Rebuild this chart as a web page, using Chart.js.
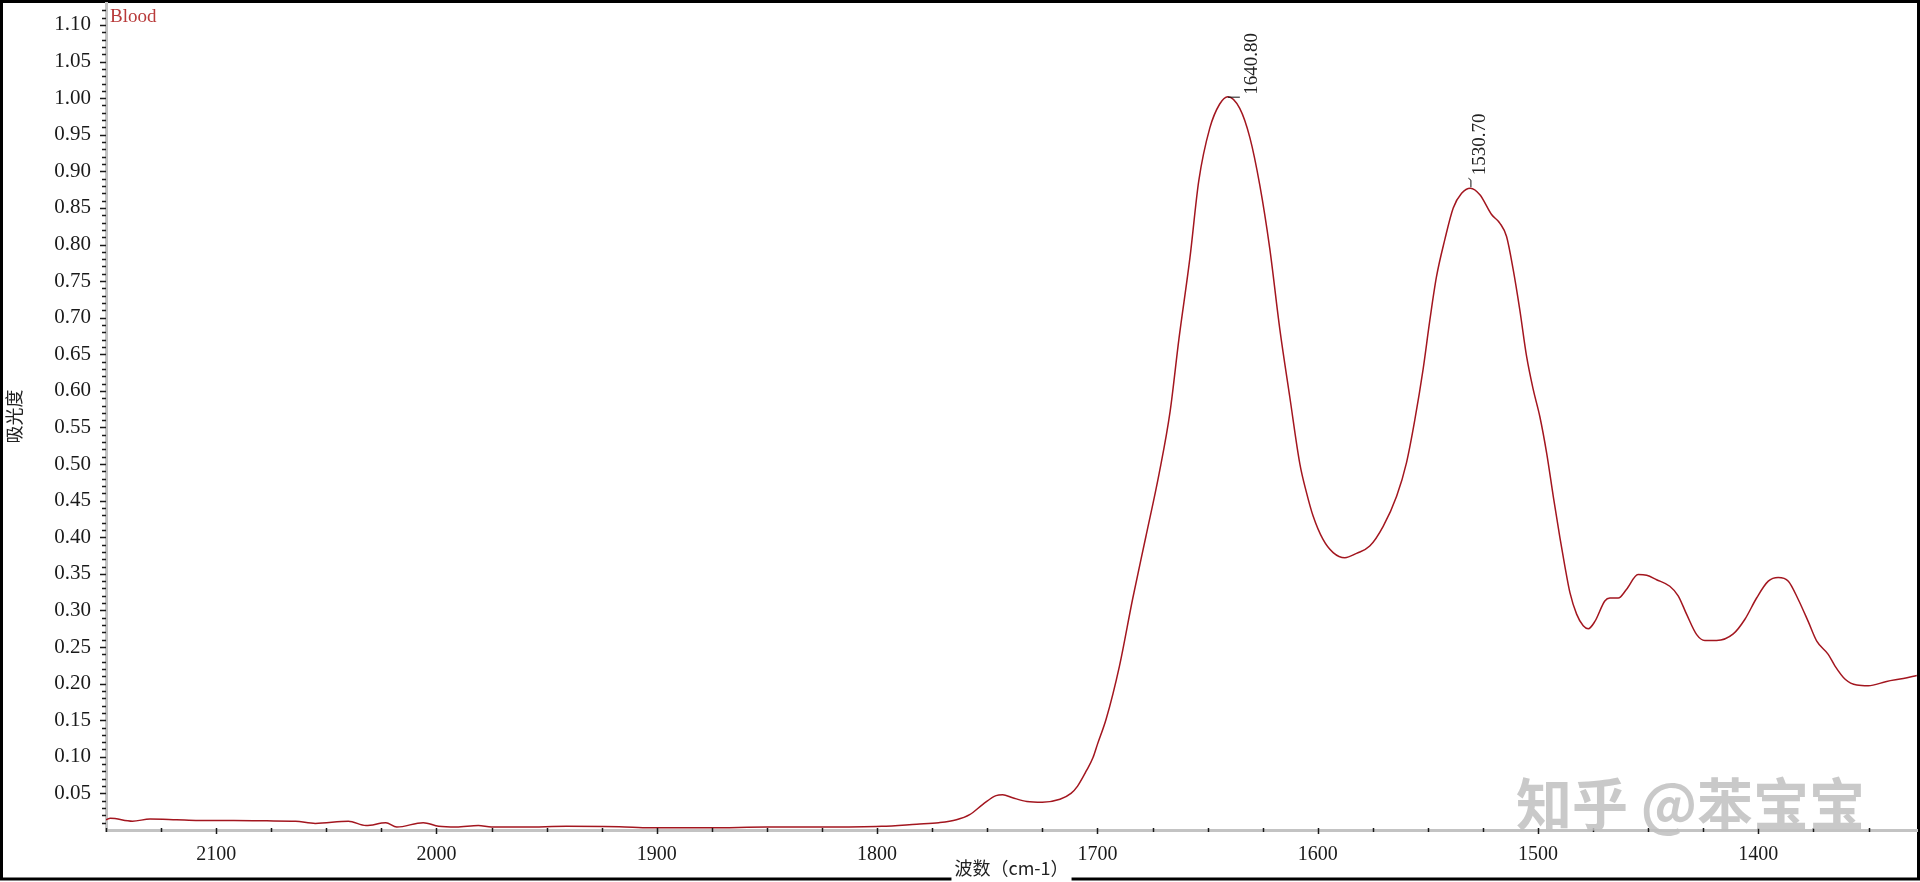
<!DOCTYPE html>
<html>
<head>
<meta charset="utf-8">
<script src="https://cdn.jsdelivr.net/npm/chart.js@4.4.1/dist/chart.umd.min.js"></script>
<style>
  html, body { margin: 0; padding: 0; background: #fff; }
  #wrap { width: 1920px; height: 882px; }
</style>
</head>
<body>
<div id="wrap"><canvas id="spectrum" width="1920" height="882"></canvas></div>
<script>
// ---- data ----
const wavenumbers = [
  2150, 2148, 2138, 2130, 2118, 2108, 2092, 2077, 2064, 2055, 2040, 2032, 2023, 2018, 2006, 1999,
  1991, 1981, 1975, 1960, 1941, 1917, 1903, 1876, 1850, 1825, 1798, 1782, 1772, 1764, 1758, 1752,
  1746, 1743, 1738.5, 1732, 1725, 1717, 1712, 1709, 1705, 1702, 1700, 1696, 1690, 1684, 1678, 1672,
  1667, 1663, 1658, 1654, 1649, 1644.5, 1640.8, 1635.4, 1630.8, 1626.3, 1621.8, 1617.2, 1612.7, 1608.1,
  1605.1, 1602.1, 1597.6, 1593, 1587.7, 1582.4, 1576.4, 1570.3, 1564.2, 1559.7, 1555.9, 1552.2, 1549.1,
  1546.1, 1542.3, 1538.5, 1534.7, 1530.7, 1526.4, 1521.1, 1517.3, 1514.3, 1511.3, 1508.3, 1505.2, 1502.2,
  1499.2, 1496.1, 1493.1, 1490.1, 1487.8, 1485.5, 1482.5, 1479.5, 1477.2, 1474.2, 1469.7, 1467.4, 1463.6,
  1459.8, 1454.6, 1450.7, 1446.2, 1440.2, 1436.4, 1432.6, 1428.0, 1424.3, 1419.0, 1411.4, 1406.1, 1400.8,
  1395.5, 1391.0, 1386.4, 1381.9, 1377.4, 1373.5, 1368.3, 1365.2, 1360.6, 1355.3, 1350.1, 1341.8, 1334.2,
  1328.1
];
const absorbance = [
  0.014, 0.016, 0.012, 0.015, 0.014, 0.013, 0.013, 0.0125, 0.012, 0.009, 0.012, 0.006, 0.010, 0.004, 0.010, 0.005,
  0.004, 0.006, 0.004, 0.004, 0.005, 0.0045, 0.003, 0.003, 0.004, 0.004, 0.005, 0.008, 0.010, 0.014, 0.021, 0.035,
  0.047, 0.048, 0.044, 0.039, 0.038, 0.042, 0.050, 0.060, 0.081, 0.099, 0.117, 0.152, 0.224, 0.316, 0.401, 0.487,
  0.572, 0.671, 0.782, 0.887, 0.959, 0.992, 1.002, 0.986, 0.946, 0.881, 0.795, 0.684, 0.592, 0.500,
  0.461, 0.429, 0.397, 0.379, 0.372, 0.378, 0.388, 0.415, 0.456, 0.502, 0.561, 0.629, 0.697,
  0.756, 0.807, 0.850, 0.870, 0.877, 0.868, 0.841, 0.829, 0.811, 0.766, 0.711, 0.647, 0.602,
  0.565, 0.515, 0.456, 0.400, 0.360, 0.324, 0.295, 0.279, 0.275, 0.285, 0.313, 0.317, 0.317,
  0.329, 0.349, 0.348, 0.342, 0.333, 0.320, 0.295, 0.267, 0.259, 0.259, 0.268, 0.288, 0.317,
  0.340, 0.345, 0.340, 0.315, 0.285, 0.258, 0.240, 0.224, 0.206, 0.198, 0.197, 0.203, 0.207,
  0.211
];
const xTickValues = [2100, 2000, 1900, 1800, 1700, 1600, 1500, 1400];
const yTickValues = [0.05, 0.10, 0.15, 0.20, 0.25, 0.30, 0.35, 0.40, 0.45, 0.50, 0.55,
  0.60, 0.65, 0.70, 0.75, 0.80, 0.85, 0.90, 0.95, 1.00, 1.05, 1.10];
const peakWavenumbers = [1640.80, 1530.70];
const peakAbsorbance = [1.002, 0.877];
const peakLabels = ['1640.80', '1530.70'];

const seriesName = 'Blood';
const xTitle = '波数（cm-1）';
const yTitle = '吸光度';

const SERIF = '"Liberation Serif", serif';
const CJK = '"Noto Sans CJK SC", sans-serif';

// frame, minor ticks, peak marks, sample name, watermark
const decorations = {
  id: 'decorations',
  beforeDraw(chart) {
    const { ctx, width, height, chartArea } = chart;
    ctx.save();
    ctx.fillStyle = '#fff';
    ctx.fillRect(0, 0, width, height);
    ctx.strokeStyle = '#000';
    ctx.lineWidth = 3;
    ctx.strokeRect(1.5, 1.5, width - 3, height - 4.5);
    // gap in the frame behind the x title
    ctx.font = '18px ' + CJK;
    const w = ctx.measureText(xTitle).width;
    const cx = (chartArea.left + chartArea.right) / 2;
    ctx.fillStyle = '#fff';
    ctx.fillRect(cx - w / 2 - 3, height - 24, w + 6, 24);
    ctx.restore();
  },
  afterDraw(chart) {
    const { ctx, chartArea, scales: { x, y } } = chart;
    ctx.save();
    ctx.strokeStyle = '#1a1a1a';
    ctx.lineWidth = 1.5;
    ctx.beginPath();
    // y ticks every 0.01, long every 0.05
    for (let i = 1; i * 0.01 <= y.max; i++) {
      const py = Math.round(y.getPixelForValue(i / 100)) + 0.5;
      const len = i % 5 === 0 ? 6 : 4;
      ctx.moveTo(chartArea.left - len, py);
      ctx.lineTo(chartArea.left, py);
    }
    // x ticks every 25, long every 100
    for (let wn = 1350; wn <= x.max; wn += 25) {
      const px = Math.round(x.getPixelForValue(wn)) + 0.5;
      const len = wn % 100 === 0 ? 4 : 2;
      ctx.moveTo(px, chartArea.bottom - 2);
      ctx.lineTo(px, chartArea.bottom + len);
    }
    ctx.stroke();

    // peak labels
    ctx.fillStyle = '#222';
    ctx.strokeStyle = '#111';
    ctx.lineWidth = 1;
    ctx.font = '19px ' + SERIF;
    ctx.textAlign = 'left';
    ctx.textBaseline = 'middle';
    peakWavenumbers.forEach((wn, i) => {
      const px = x.getPixelForValue(wn);
      const py = y.getPixelForValue(peakAbsorbance[i]);
      let tx, ty;
      ctx.beginPath();
      if (i === 0) {
        ctx.moveTo(px, py + 0.5);
        ctx.lineTo(px + 12, py + 0.5);
        tx = px + 24; ty = py - 2;
      } else {
        ctx.moveTo(px + 0.5, py - 1);
        ctx.lineTo(px + 0.5, py - 8);
        ctx.lineTo(px - 2, py - 10);
        tx = px + 10; ty = py - 13;
      }
      ctx.stroke();
      ctx.save();
      ctx.translate(tx, ty);
      ctx.rotate(-Math.PI / 2);
      ctx.fillText(peakLabels[i], 0, 0);
      ctx.restore();
    });

    // sample name
    ctx.fillStyle = '#b83a3a';
    ctx.font = '19px ' + SERIF;
    ctx.textBaseline = 'middle';
    ctx.fillText(seriesName, chartArea.left + 4, 17);

    // watermark
    ctx.fillStyle = 'rgba(192,192,192,0.85)';
    ctx.font = 'bold 56px ' + CJK;
    ctx.textBaseline = 'middle';
    ctx.fillText('知乎 @苯宝宝', 1516, 804);
    ctx.restore();
  }
};

const points = wavenumbers.map((wn, i) => ({ x: wn, y: absorbance[i] }));

new Chart(document.getElementById('spectrum'), {
  type: 'line',
  data: {
    datasets: [{
      label: seriesName,
      data: points,
      borderColor: '#a3161f',
      borderWidth: 1.5,
      pointRadius: 0,
      fill: false,
      cubicInterpolationMode: 'monotone'
    }]
  },
  options: {
    responsive: false,
    animation: false,
    events: [],
    layout: { padding: { top: 3, right: 3, left: 0, bottom: 0 } },
    plugins: { legend: { display: false }, tooltip: { enabled: false } },
    scales: {
      x: {
        type: 'linear',
        reverse: true,
        min: 1328,
        max: 2150,
        afterBuildTicks: s => { s.ticks = xTickValues.map(v => ({ value: v })); },
        afterFit: s => { s.height = 52; s.paddingLeft = 0; s.paddingRight = 0; },
        grid: { display: false },
        border: { display: true, color: '#c3c3c3', width: 3 },
        ticks: {
          autoSkip: false, maxRotation: 0, padding: 5, color: '#1a1a1a',
          font: { family: SERIF, size: 20 },
          callback: v => String(v)
        },
        title: {
          display: true, text: xTitle, color: '#222',
          font: { family: CJK, size: 18 },
          padding: { top: 0, bottom: 3 }
        }
      },
      y: {
        type: 'linear',
        min: 0,
        max: 1.13,
        afterBuildTicks: s => { s.ticks = yTickValues.map(v => ({ value: v })); },
        afterFit: s => { s.width = 106; s.paddingTop = 0; s.paddingBottom = 0; },
        grid: { display: false },
        border: { display: true, color: '#c3c3c3', width: 3 },
        ticks: {
          autoSkip: false, padding: 7, color: '#1a1a1a',
          font: { family: SERIF, size: 21 },
          callback: v => v.toFixed(2)
        },
        title: {
          display: true, text: yTitle, color: '#222',
          font: { family: CJK, size: 18 },
          padding: { top: 3, bottom: 0 }
        }
      }
    }
  },
  plugins: [decorations]
});
</script>
</body>
</html>
